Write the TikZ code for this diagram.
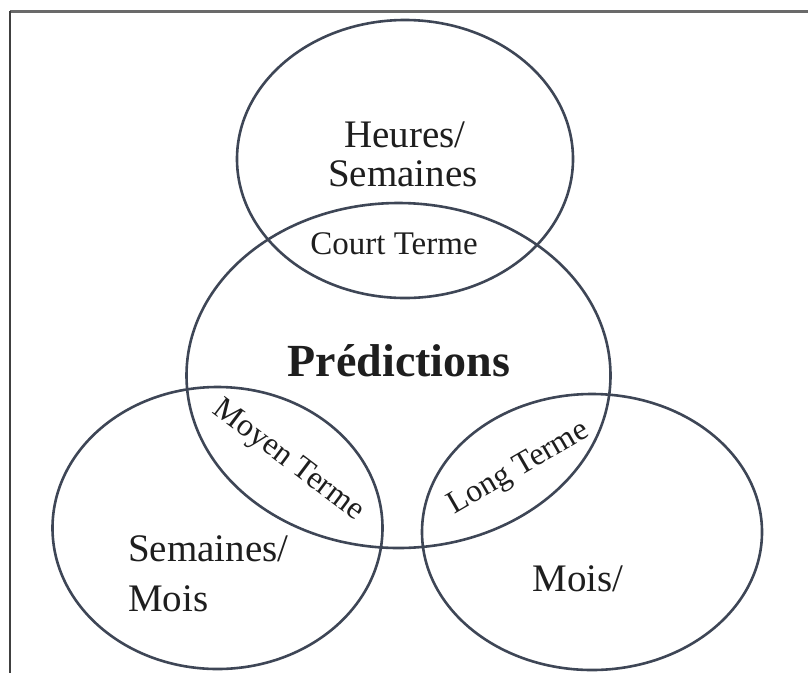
\documentclass[tikz,border=0pt]{standalone}
\usepackage{fontspec}
\setmainfont{Liberation Serif}
\usetikzlibrary{shapes.geometric}
\definecolor{ringline}{HTML}{3E4656}
\definecolor{inktext}{HTML}{1E1E1E}
\definecolor{framegray}{HTML}{6A6A6A}
\begin{document}
\begin{tikzpicture}[x=1pt,y=-1pt,
  ring/.style 2 args={draw=ringline, line width=2.6pt, shape=ellipse,
    inner sep=0pt, minimum width=#1, minimum height=#2},
  lbl/.style={text=inktext, inner sep=0pt, anchor=base,
    font=\fontsize{39}{39}\selectfont},
  smalllbl/.style={text=inktext, inner sep=0pt,
    font=\fontsize{32}{32}\selectfont}]
\useasboundingbox (0,0) rectangle (808,673);

% frame (top and left edges)
\coordinate (tl) at (10,11);
\coordinate (tr) at (808,11);
\coordinate (bl) at (10,673);
\draw[framegray, line width=3pt] (tl) -- (tr);
\draw[black!75, line width=1.8pt] (tl) -- (bl);

% the four overlapping ellipses
\node[ring={336pt}{278pt}] (tope) at (405,159) {};
\node[ring={424pt}{345pt}] (mid) at (398.5,375.5) {};
\node[ring={330pt}{282pt}] (lefte) at (217.5,528) {};
\node[ring={340pt}{276pt}] (righte) at (592,532) {};

% labels
\node[lbl] (heures) at (405,147) {Heures/};
\node[lbl] (semtop) at (403,186) {Semaines};
\node[lbl, font=\fontsize{33}{33}\selectfont] (court) at (394,254) {Court Terme};
\node[lbl, font=\fontsize{46}{46}\selectfont\bfseries] (pred) at (399,376) {Prédictions};
\node[lbl, anchor=base west] (semleft) at (128,561) {Semaines/};
\node[lbl, anchor=base west] (moisleft) at (128,611) {Mois};
\node[lbl] (moisright) at (578,591) {Mois/};
\node[smalllbl, rotate=-37] (moyen) at (288,461) {Moyen Terme};
\node[smalllbl, rotate=30] (long) at (519,469) {Long Terme};
\end{tikzpicture}
\end{document}
